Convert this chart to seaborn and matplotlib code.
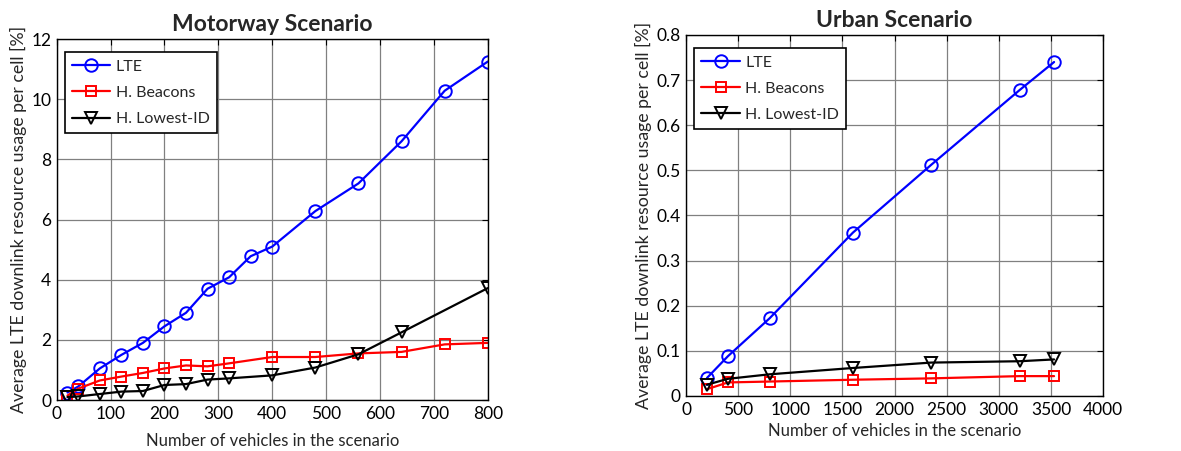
import matplotlib
matplotlib.use("Agg")
import matplotlib.pyplot as plt
import seaborn as sns
import pandas as pd

# Motorway scenario
mw_x_lte = [20, 40, 80, 120, 160, 200, 240, 280, 320, 360, 400, 480, 560, 640, 720, 800]
mw_lte = [0.25, 0.45, 1.05, 1.5, 1.9, 2.45, 2.9, 3.7, 4.08, 4.78, 5.1, 6.28, 7.2, 8.6, 10.28, 11.25]
mw_x_bea = [20, 40, 80, 120, 160, 200, 240, 280, 320, 400, 480, 560, 640, 720, 800]
mw_bea = [0.15, 0.38, 0.65, 0.78, 0.9, 1.05, 1.15, 1.12, 1.22, 1.43, 1.43, 1.55, 1.6, 1.85, 1.9]
mw_x_low = [20, 40, 80, 120, 160, 200, 240, 280, 320, 400, 480, 560, 640, 800]
mw_low = [0.1, 0.12, 0.2, 0.28, 0.3, 0.5, 0.53, 0.68, 0.72, 0.82, 1.08, 1.52, 2.25, 3.72]

# Urban scenario
ur_x = [200, 400, 800, 1600, 2350, 3200, 3530]
ur_lte = [0.04, 0.088, 0.172, 0.362, 0.512, 0.678, 0.74]
ur_bea = [0.015, 0.03, 0.032, 0.036, 0.039, 0.044, 0.044]
ur_low = [0.025, 0.038, 0.048, 0.062, 0.074, 0.077, 0.081]

series_names = ["LTE", "H. Beacons", "H. Lowest-ID"]
colors = ["#0000ff", "#ff0000", "#000000"]
markers = ["o", "s", "v"]
msizes = [9, 6.5, 8.5]

sns.set_style("white")
plt.rcParams["font.family"] = ["Lato", "DejaVu Sans"]

fig = plt.figure(figsize=(11.81, 4.51), dpi=100)
ax1 = fig.add_axes([0.048, 0.113, 0.365, 0.8005])
ax2 = fig.add_axes([0.581, 0.122, 0.353, 0.8005])


def draw(ax, xs, ys, title, xlim, xticks, ylim, yticks, ylabels, xpad):
    for name, x, y, c, m, ms in zip(series_names, xs, ys, colors, markers, msizes):
        df = pd.DataFrame({"x": x, "y": y})
        sns.lineplot(data=df, x="x", y="y", ax=ax, color=c, marker=m,
                     markersize=ms, markerfacecolor="none", markeredgecolor=c,
                     markeredgewidth=1.4, linewidth=1.6, label=name)
    ax.set_xlim(*xlim)
    ax.set_ylim(*ylim)
    ax.set_xticks(xticks)
    ax.set_yticks(yticks)
    ax.set_yticklabels(ylabels)
    ax.grid(True, color="#808080", linewidth=0.9)
    ax.set_axisbelow(True)
    for s in ax.spines.values():
        s.set_color("black")
        s.set_linewidth(1.0)
    ax.tick_params(direction="in", top=True, right=True, length=4, width=0.8,
                   labelsize=12.5, pad=4, colors="black")
    ax.set_title(title, fontsize=16.5, fontweight="bold", pad=6)
    ax.set_xlabel("Number of vehicles in the scenario", fontsize=12, labelpad=xpad)
    ax.set_ylabel("Average LTE downlink resource usage per cell [%]", fontsize=12.8, labelpad=3)
    leg = ax.legend(loc="upper left", frameon=True, fancybox=False, fontsize=11.5,
                    handlelength=2.4, handletextpad=0.35, borderpad=0.45,
                    labelspacing=0.75, bbox_to_anchor=(0.0, 0.985), borderaxespad=0.5)
    leg.get_frame().set_edgecolor("black")
    leg.get_frame().set_linewidth(1.2)
    leg.get_frame().set_alpha(1)


draw(ax1, [mw_x_lte, mw_x_bea, mw_x_low], [mw_lte, mw_bea, mw_low],
     "Motorway Scenario", (0, 800), list(range(0, 801, 100)), (0, 12),
     [0, 2, 4, 6, 8, 10, 12], ["0", "2", "4", "6", "8", "10", "12"], 8)
draw(ax2, [ur_x, ur_x, ur_x], [ur_lte, ur_bea, ur_low],
     "Urban Scenario", (0, 4000), list(range(0, 4001, 500)), (0, 0.8),
     [0, 0.1, 0.2, 0.3, 0.4, 0.5, 0.6, 0.7, 0.8],
     ["0", "0.1", "0.2", "0.3", "0.4", "0.5", "0.6", "0.7", "0.8"], 4)

fig.savefig("out.png", dpi=100)
